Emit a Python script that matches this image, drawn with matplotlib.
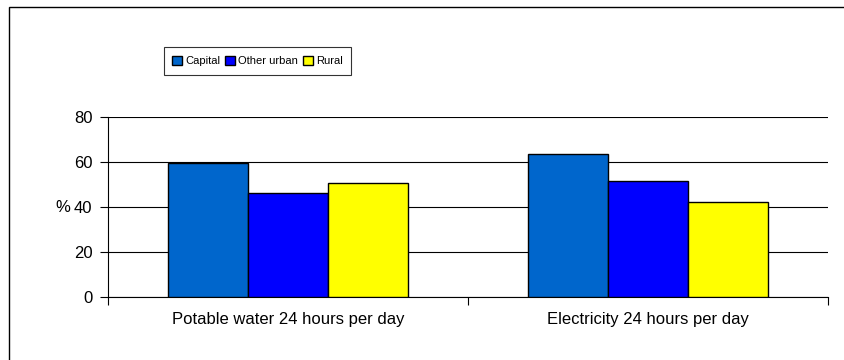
import numpy as np
import matplotlib.pyplot as plt
from matplotlib.patches import Rectangle

plt.rcParams["font.family"] = ["Liberation Sans", "DejaVu Sans"]

categories = ["Potable water 24 hours per day", "Electricity 24 hours per day"]
series = ["Capital", "Other urban", "Rural"]
capital = [59.4, 63.4]
other_urban = [46.1, 51.6]
rural = [50.8, 42.1]
colors = ["#0066CC", "#0000FF", "#FFFF00"]

fig = plt.figure(figsize=(8.44, 3.6), dpi=100)
ax = fig.add_axes([0.1276, 0.175, 0.8535, 0.5])

x = np.arange(len(categories))
w = 0.2222
for i, (vals, name) in enumerate(zip([capital, other_urban, rural], series)):
    ax.bar(x + (i - 1) * w, vals, width=w, color=colors[i], edgecolor="black",
           linewidth=1, label=name, zorder=3)

ax.set_xlim(-0.5, 1.5)
ax.set_ylim(0, 80)
ax.set_yticks([0, 20, 40, 60, 80])
ax.yaxis.grid(True, color="black", linewidth=0.8, zorder=0)
ax.tick_params(axis="y", direction="out", length=6, width=0.8, labelsize=12, pad=5)

# category labels centered, ticks at boundaries
ax.set_xticks([-0.5, 0.5, 1.5])
ax.set_xticklabels([])
ax.set_xticks(x, minor=True)
ax.set_xticklabels(categories, minor=True, fontsize=12)
ax.tick_params(axis="x", which="major", direction="out", length=6, width=0.8)
ax.tick_params(axis="x", which="minor", length=0, pad=11)

for s in ["top", "right"]:
    ax.spines[s].set_visible(False)
ax.spines["left"].set_linewidth(0.8)
ax.spines["bottom"].set_linewidth(0.8)

ax.set_ylabel("%", rotation=0, fontsize=12, labelpad=8, va="center")

leg = fig.legend(loc="center", bbox_to_anchor=(0.305, 0.83), ncol=3, fontsize=8,
                 frameon=True, fancybox=False, edgecolor="black", handlelength=0.9,
                 handleheight=0.9, handletextpad=0.25, columnspacing=0.45,
                 borderpad=0.8, borderaxespad=0)
leg.get_frame().set_linewidth(0.8)

# chart area border
fig.patches.append(Rectangle((9 / 844, -0.5), 2, 1.5 - 7 / 360, transform=fig.transFigure,
                             fill=False, edgecolor="black", linewidth=1))

fig.savefig("out.png", dpi=100)
